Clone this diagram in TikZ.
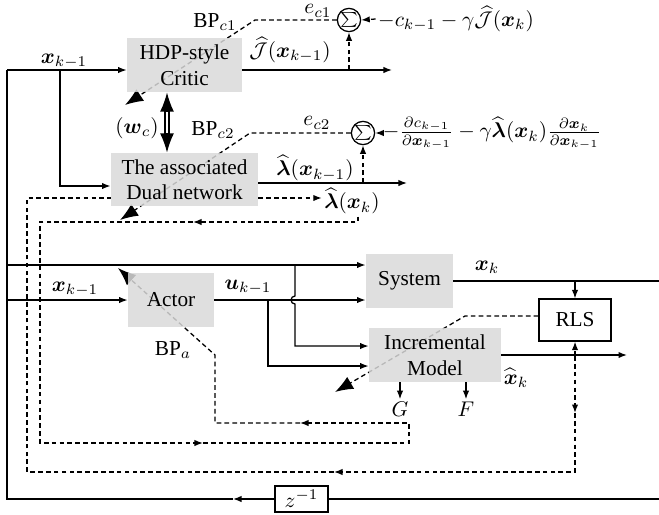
\documentclass[tikz,border=0pt]{standalone}
\usepackage{amsmath,amssymb}
\usepackage{fontspec}
\setmainfont{Liberation Serif}
\usetikzlibrary{arrows.meta,calc}
\pgfdeclarelayer{bg}
\pgfsetlayers{bg,main}
\tikzset{
 blk/.style={fill=gray!30, fill opacity=0.85, text opacity=1, inner sep=0pt, align=center},
 ln/.style={line width=0.6pt},
 arr/.style={ln, -{Latex[length=4pt,width=3pt]}},
 dsh/.style={ln, dash pattern=on 2.2pt off 1.5pt},
 darr/.style={dsh, -{Latex[length=4pt,width=3pt]}},
 bigarr/.style={dsh, -{Latex[length=8.5pt,width=6.5pt]}},
 sumn/.style={circle, draw, line width=0.6pt, minimum size=9.6pt, inner sep=0pt, font=\scriptsize},
 lbl/.style={inner sep=1pt},
 dtip/.style={ln, -{Latex[length=9pt,width=6.5pt]}}
}
\begin{document}
\begin{tikzpicture}[x=0.47pt,y=-0.47pt]
\path[use as bounding box] (0,0) rectangle (659,514);

% blocks
\node[blk, minimum width=54pt, minimum height=25.4pt] (critic) at (184.5,65) {HDP-style\\Critic};
\node[blk, minimum width=69.1pt, minimum height=24.9pt] (dual) at (184.5,179.5) {The associated\\Dual network};
\node[blk, minimum width=40.4pt, minimum height=25.4pt] (actor) at (171,300) {Actor};
\node[blk, minimum width=40.9pt, minimum height=25.4pt] (sys) at (409.5,281) {System};
\node[blk, minimum width=62pt, minimum height=25.4pt] (incr) at (435,355) {Incremental\\Model};
\node[draw, ln, fill=white, minimum width=33.8pt, minimum height=19.7pt, inner sep=0pt] (rls) at (575,320) {RLS};
\node[draw, ln, fill=white, minimum width=24.9pt, minimum height=12.2pt, inner sep=0pt] (z) at (301.5,499) {$z^{-1}$};
\node[sumn] (s1) at (349,20) {$\sum$};
\node[sumn] (s2) at (363,133) {$\sum$};

% labels
\node[lbl] (t1) at (456,19) {$-c_{k-1}-\gamma\widehat{\mathcal{J}}(\boldsymbol{x}_k)$};
\node[lbl] (t2) at (492,133) {$-\frac{\partial c_{k-1}}{\partial \boldsymbol{x}_{k-1}}-\gamma\widehat{\boldsymbol{\lambda}}(\boldsymbol{x}_k)\frac{\partial \boldsymbol{x}_k}{\partial \boldsymbol{x}_{k-1}}$};
\node[lbl] (lxk) at (352,201) {$\widehat{\boldsymbol{\lambda}}(\boldsymbol{x}_k)$};
\node[lbl] (lx1) at (64,61) {$\boldsymbol{x}_{k-1}$};
\node[lbl] (lx2) at (75,289) {$\boldsymbol{x}_{k-1}$};
\node[lbl] (lu) at (248,287) {$\boldsymbol{u}_{k-1}$};
\node[lbl] (lxk2) at (487,267) {$\boldsymbol{x}_k$};
\node[lbl] (lJ) at (290,50) {$\widehat{\mathcal{J}}(\boldsymbol{x}_{k-1})$};
\node[lbl] (lL) at (315,168) {$\widehat{\boldsymbol{\lambda}}(\boldsymbol{x}_{k-1})$};
\node[lbl] (le1) at (318,11) {$e_{c1}$};
\node[lbl] (le2) at (317,123) {$e_{c2}$};
\node[lbl] (lb1) at (215,22) {BP$_{c1}$};
\node[lbl] (lb2) at (213,130) {BP$_{c2}$};
\node[lbl] (lba) at (173,350) {BP$_{a}$};
\node[lbl] (lw) at (137,128) {$(\boldsymbol{w}_c)$};
\node[lbl] (xh) at (516,378) {$\widehat{\boldsymbol{x}}_k$};
\node[lbl] (G) at (400,409) {$G$};
\node[lbl] (F) at (466,409) {$F$};

\begin{pgfonlayer}{bg}
% main feedback loop
\coordinate (lt) at (7,70);
\coordinate (lb) at (7,499);
\coordinate (zm) at (233,499);
\coordinate (zr) at (659,499);
\draw[arr] (z.west) -- (zm);
\draw[ln] (zm) -- (lb) -- (lt);
\draw[arr] (lt) -- (lt -| critic.west);
\draw[ln] (z.east) -- (zr);
\coordinate (l265) at (7,265);
\coordinate (l300) at (7,300);
\draw[arr] (l265) -- (l265 -| sys.west);
\draw[arr] (l300) -- (actor.west);
\coordinate (v60t) at (60,70);
\coordinate (v60b) at (60,186);
\draw[arr] (v60t) -- (v60b) -- (v60b -| dual.west);

% critic output and error
\coordinate (co) at (392,70);
\draw[arr] (co -| critic.east) -- (co);
\coordinate (s1b) at (349,70);
\draw[darr] (s1b) -- (s1.south);
\draw[darr] (t1.west) -- (s1.east);
\coordinate (bp1) at (255,20);
\coordinate (bp1e) at (125,105);
\draw[bigarr] (s1.west) -- (bp1) -- (bp1e);

% weight sharing
\coordinate (wx) at (167,120);
\coordinate (wt) at (critic.south -| wx);
\coordinate (wb) at (dual.north -| wx);
\draw[ln, double, double distance=1.3pt, shorten <=8pt, shorten >=8pt] (wt) -- (wb);
\draw[dtip] ($(wt)!9pt!(wb)$) -- (wt);
\draw[dtip] ($(wb)!9pt!(wt)$) -- (wb);

% dual output and error
\coordinate (do) at (407,183);
\draw[arr] (do -| dual.east) -- (do);
\coordinate (s2b) at (363,183);
\draw[darr] (s2b) -- (s2.south);
\draw[darr] (t2.west) -- (s2.east);
\coordinate (bp2) at (250,133);
\coordinate (bp2e) at (120,220);
\draw[bigarr] (s2.west) -- (bp2) -- (bp2e);

% outer dashed loop
\coordinate (o1) at (575,356);
\coordinate (o2) at (575,413);
\coordinate (o3) at (575,472);
\coordinate (o4) at (334,472);
\coordinate (o5) at (27,472);
\coordinate (o6) at (27,198);
\draw[darr] (o1) -- (o1 |- rls.south);
\draw[darr] (o1) -- (o2);
\draw[darr] (o2) -- (o3) -- (o4);
\draw[dsh] (o4) -- (o5) -- (o6) -- (o6 -| dual.west);
\draw[darr] (o6 -| dual.east) -- (o6 -| lxk.west);

% inner dashed loop
\coordinate (i0) at (358,222);
\coordinate (i1) at (193,222);
\coordinate (i2) at (40,222);
\coordinate (i3) at (40,443);
\coordinate (i4) at (203,443);
\coordinate (i5) at (409,443);
\coordinate (i6) at (409,423);
\coordinate (i7) at (300,423);
\coordinate (i8) at (215,423);
\coordinate (i9) at (215,355);
\coordinate (i10) at (118,268);
\draw[darr] (lxk.south -| i0) -- (i0) -- (i1);
\draw[darr] (i1) -- (i2) -- (i3) -- (i4);
\draw[darr] (i4) -- (i5) -- (i6) -- (i7);
\draw[bigarr] (i7) -- (i8) -- (i9) -- (i10);

% actor outputs
\coordinate (j268) at (268,300);
\coordinate (j268b) at (268,366);
\draw[arr] (actor.east) -- (actor.east -| sys.west);
\draw[arr] (j268) -- (j268b) -- (j268b -| incr.west);
\coordinate (j295) at (295,265);
\coordinate (h1) at (295,296);
\coordinate (j295b) at (295,346);
\draw[arr] (j295) -- (h1) arc[start angle=90,end angle=270,radius=1.88pt] -- (j295b) -- (j295b -| incr.west);

% system output
\coordinate (xr) at (659,281);
\draw[ln] (sys.east) -- (xr);
\coordinate (rt) at (575,281);
\draw[arr] (rt) -- (rt |- rls.north);

% RLS to model
\coordinate (r1) at (465,316);
\coordinate (r2) at (335,392);
\draw[bigarr] (rls.west |- r1) -- (r1) -- (r2);

% model output
\coordinate (io) at (627,355);
\draw[arr] (incr.east) -- (io);
\draw[arr] (incr.south -| G) -- (G.north);
\draw[arr] (incr.south -| F) -- (F.north);
\end{pgfonlayer}
\end{tikzpicture}
\end{document}
